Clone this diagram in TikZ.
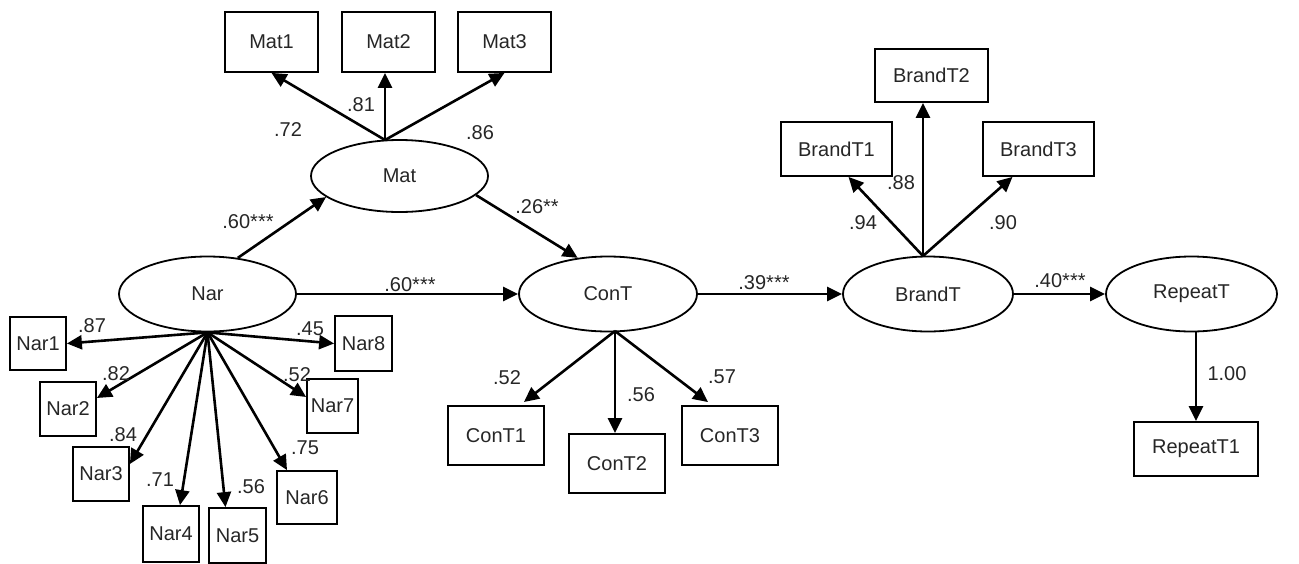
\documentclass[tikz,border=0pt]{standalone}
\usepackage{fontspec}
\setmainfont{Liberation Sans}
\usetikzlibrary{shapes.geometric,arrows.meta,calc}
\begin{document}
\begin{tikzpicture}[x=1pt,y=-1pt,
  lat/.style={ellipse,draw,line width=1.8pt,inner sep=0pt,
    minimum width=177pt,minimum height=75pt,
    font=\fontsize{20}{24}\selectfont,text=black!85},
  obs/.style={rectangle,draw,line width=1.8pt,inner sep=0pt,
    font=\fontsize{20}{24}\selectfont,text=black!85},
  arr/.style={line width=2.6pt,-{Triangle[length=15pt,width=14pt]}},
  coef/.style={inner sep=0pt,font=\fontsize{20}{24}\selectfont,text=black!85}]

\path[use as bounding box] (0,0) rectangle (1299,563);

% latent variables
\node[lat,minimum height=72pt] (Mat) at (399.5,176) {Mat};
\node[lat] (Nar) at (207.5,294) {Nar};
\node[lat,minimum width=178pt] (ConT) at (608,294) {ConT};
\node[lat,minimum width=170pt] (BrandT) at (928,294) {BrandT};
\node[lat,minimum width=171pt] (RepeatT) at (1191.5,294) {RepeatT};

% indicators of Mat
\node[obs,minimum width=93pt,minimum height=60pt] (Mat1) at (271.5,42) {Mat1};
\node[obs,minimum width=93pt,minimum height=60pt] (Mat2) at (388.5,42) {Mat2};
\node[obs,minimum width=93pt,minimum height=60pt] (Mat3) at (504.5,42) {Mat3};

% indicators of Nar
\node[obs,minimum width=56pt,minimum height=53pt] (Nar1) at (38,343.5) {Nar1};
\node[obs,minimum width=56pt,minimum height=54pt] (Nar2) at (68,409) {Nar2};
\node[obs,minimum width=56pt,minimum height=54pt] (Nar3) at (101,474) {Nar3};
\node[obs,minimum width=56pt,minimum height=56pt] (Nar4) at (171,534) {Nar4};
\node[obs,minimum width=57pt,minimum height=55pt] (Nar5) at (237.5,535.5) {Nar5};
\node[obs,minimum width=60pt,minimum height=53pt] (Nar6) at (307,497.5) {Nar6};
\node[obs,minimum width=51pt,minimum height=54pt] (Nar7) at (332.5,406) {Nar7};
\node[obs,minimum width=57pt,minimum height=55pt] (Nar8) at (363.5,343.5) {Nar8};

% indicators of ConT
\node[obs,minimum width=96pt,minimum height=59pt] (ConT1) at (496,435.5) {ConT1};
\node[obs,minimum width=96pt,minimum height=59pt] (ConT2) at (617,463.5) {ConT2};
\node[obs,minimum width=96pt,minimum height=59pt] (ConT3) at (730,435.5) {ConT3};

% indicators of BrandT
\node[obs,minimum width=111pt,minimum height=54pt] (BrandT1) at (836.5,149) {BrandT1};
\node[obs,minimum width=113pt,minimum height=53pt] (BrandT2) at (931.5,75.5) {BrandT2};
\node[obs,minimum width=111pt,minimum height=54pt] (BrandT3) at (1038.5,149) {BrandT3};

% indicator of RepeatT
\node[obs,minimum width=124pt,minimum height=54pt] (RepeatT1) at (1196,449) {RepeatT1};

% structural paths
\draw[arr] (Nar.50) -- (Mat.196);
\draw[arr] (Mat.-14) -- (ConT.130);
\draw[arr] (Nar.east) -- (ConT.west);
\draw[arr] (ConT.east) -- (BrandT.west);
\draw[arr] (BrandT.east) -- (RepeatT.west);
\draw[arr] (RepeatT.south -| RepeatT1.north) -- (RepeatT1.north);

% loadings of Mat
\coordinate (matO) at (385,140);
\draw[arr] (matO) -- (Mat1.south);
\draw[arr] (matO) -- (matO |- Mat2.south);
\draw[arr] (matO) -- (Mat3.south);

% loadings of Nar
\draw[arr] (Nar.south) -- (Nar1.east);
\draw[arr] (Nar.south) -- ([yshift=11pt]Nar2.east);
\draw[arr] (Nar.south) -- ([yshift=10pt]Nar3.east);
\draw[arr] (Nar.south) -- ([xshift=9pt]Nar4.north);
\draw[arr] (Nar.south) -- ([xshift=-12pt]Nar5.north);
\draw[arr] (Nar.south) -- ([xshift=-20pt]Nar6.north);
\draw[arr] (Nar.south) -- ([yshift=9pt]Nar7.west);
\draw[arr] (Nar.south) -- (Nar8.west);

% loadings of ConT
\coordinate (conO) at (615,331);
\draw[arr,shorten >=5pt] (conO) -- ([xshift=24pt]ConT1.north);
\draw[arr] (conO) -- (conO |- ConT2.north);
\draw[arr,shorten >=5pt] (conO) -- ([xshift=-18pt]ConT3.north);

% loadings of BrandT
\coordinate (brO) at (923,256);
\draw[arr] (brO) -- ([xshift=12pt]BrandT1.south);
\draw[arr] (brO) -- (brO |- BrandT2.south);
\draw[arr] (brO) -- ([xshift=-26pt]BrandT3.south);

% coefficients
\node[coef] (cM1) at (288,130) {.72};
\node[coef] (cM2) at (361,105) {.81};
\node[coef] (cM3) at (480,133) {.86};
\node[coef] (cNM) at (248,222) {.60***};
\node[coef] (cMC) at (537,207) {.26**};
\node[coef] (cNC) at (410,285) {.60***};
\node[coef] (cCB) at (764,283) {.39***};
\node[coef] (cBR) at (1060,281) {.40***};
\node[coef] (cN1) at (92,326) {.87};
\node[coef] (cN2) at (116,374) {.82};
\node[coef] (cN3) at (123,435) {.84};
\node[coef] (cN4) at (160,480) {.71};
\node[coef] (cN5) at (251,487) {.56};
\node[coef] (cN6) at (305,448) {.75};
\node[coef] (cN7) at (297,375) {.52};
\node[coef] (cN8) at (310,329) {.45};
\node[coef] (cC1) at (507,378) {.52};
\node[coef] (cC2) at (641,395) {.56};
\node[coef] (cC3) at (722,377) {.57};
\node[coef] (cB1) at (863,223) {.94};
\node[coef] (cB2) at (901,183) {.88};
\node[coef] (cB3) at (1003,223) {.90};
\node[coef] (cR1) at (1227,374) {1.00};
\end{tikzpicture}
\end{document}
